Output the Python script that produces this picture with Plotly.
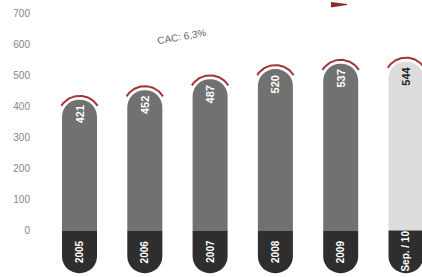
import numpy as np
import plotly.graph_objects as go

# ---- data ----
categories = ["2005", "2006", "2007", "2008", "2009", "Sep. / 10"]
values = [421, 452, 487, 520, 537, 544]
value_labels = ["421", "452", "487", "520", "537", "544"]
y_ticks = [0, 100, 200, 300, 400, 500, 600, 700]
cagr_label = "CAC: 6,3%"

# ---- layout constants ----
W, H = 422, 277
ML, MR, MT, MB = 40, 0, 2, 2
XR = [-0.605, 5.245]
YR = [-143, 736]
LABEL_DEPTH = -137
BAR_W = 0.536

px_x = (W - ML - MR) / (XR[1] - XR[0])
px_y = (H - MT - MB) / (YR[1] - YR[0])

xs = list(range(len(categories)))
main_colors = ["#717171"] * (len(values) - 1) + ["#dcdcdc"]
val_colors = ["white"] * (len(values) - 1) + ["#222222"]

fig = go.Figure()
fig.add_trace(go.Bar(x=xs, y=values, width=BAR_W, marker=dict(color=main_colors, line=dict(width=0)),
                     hoverinfo="skip", showlegend=False))
fig.add_trace(go.Bar(x=xs, y=[LABEL_DEPTH] * len(values), width=BAR_W,
                     marker=dict(color="#2e2e2e", line=dict(width=0)), hoverinfo="skip", showlegend=False))

# red arcs above each bar cap
half_w_px = BAR_W * px_x / 2
r_px = half_w_px + 4.0
theta = np.linspace(np.radians(32), np.radians(148), 40)
for xi, v in zip(xs, values):
    cy = v - half_w_px / px_y
    ax = xi + r_px * np.cos(theta) / px_x
    ay = cy + r_px * np.sin(theta) / px_y
    fig.add_trace(go.Scatter(x=ax, y=ay, mode="lines", line=dict(color="#a53436", width=2.0),
                             hoverinfo="skip", showlegend=False))

font_narrow = "Liberation Sans Narrow, Arial Narrow, Liberation Sans, Arial"
for xi, v, lab, c in zip(xs, values, value_labels, val_colors):
    fig.add_annotation(x=xi, y=v, yshift=-15, text="<b>%s</b>" % lab, textangle=-90, showarrow=False,
                       font=dict(family=font_narrow, size=11, color=c), xanchor="center", yanchor="middle")
for xi, cat in zip(xs, categories):
    fig.add_annotation(x=xi, y=0, yshift=-21, text="<b>%s</b>" % cat, textangle=-90, showarrow=False,
                       font=dict(family=font_narrow, size=10, color="white"), xanchor="center", yanchor="middle")

fig.add_annotation(x=1.57, y=626, text=cagr_label, textangle=-10, showarrow=False,
                   font=dict(family=font_narrow, size=10, color="#666666"))

# red arrow tip at top edge
pw, ph = (W - ML - MR), (H - MT - MB)
fig.add_shape(type="path", xref="paper", yref="paper",
              path="M %f %f L %f %f L %f %f L %f %f Z" % (
                  (331 - ML) / pw, 1 - (2 - MT) / ph,
                  (331 - ML) / pw, 1 - (7.5 - MT) / ph,
                  (347 - ML) / pw, 1 - (5 - MT) / ph,
                  (347 - ML) / pw, 1 - (4 - MT) / ph),
              fillcolor="#8e2a2a", line=dict(width=0), layer="above")

fig.update_layout(
    width=W, height=H, margin=dict(l=ML, r=MR, t=MT, b=MB),
    paper_bgcolor="white", plot_bgcolor="white",
    barmode="overlay", barcornerradius="50%",
    xaxis=dict(range=XR, showticklabels=False, showgrid=False, zeroline=False, showline=False, ticks=""),
    yaxis=dict(range=YR, tickvals=y_ticks, showgrid=False, zeroline=False, showline=False,
               ticklabelstandoff=9, tickfont=dict(family="Liberation Sans, Arial", size=10, color="#858585")),
)
fig.write_html("out.html", config={"displayModeBar": False},
               post_script="document.body.style.margin='0';document.body.style.overflow='hidden';")
